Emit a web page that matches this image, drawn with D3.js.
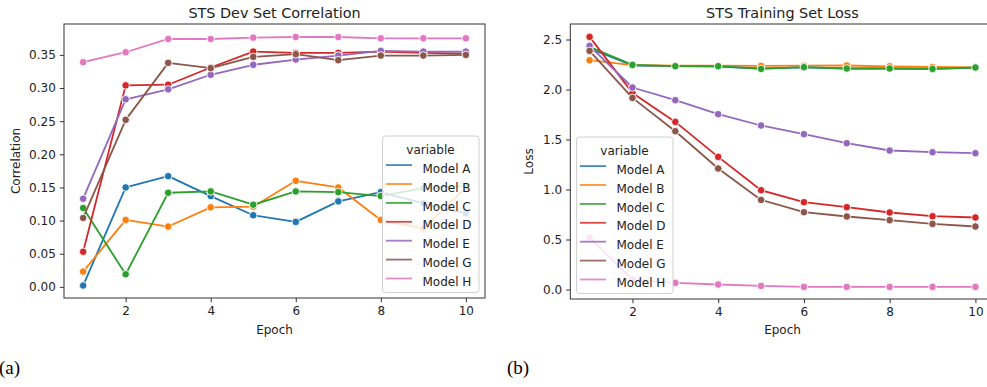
<!DOCTYPE html>
<html><head><meta charset="utf-8">
<script src="https://cdn.jsdelivr.net/npm/d3@7"></script>
<style>
body{margin:0;background:#fff;}
svg text{font-family:"DejaVu Sans",sans-serif;fill:#222;}
svg text.sub{font-family:"Liberation Serif","Times New Roman",serif;fill:#000;}
</style></head>
<body><svg id="c" width="987" height="387"></svg>
<script>
const epochs = [1,2,3,4,5,6,7,8,9,10];
const models = ["Model A","Model B","Model C","Model D","Model E","Model G","Model H"];
const colors = ["#1f77b4","#ff7f0e","#2ca02c","#d62728","#9467bd","#8c564b","#e377c2"];

// STS Dev Set Correlation
const corrA = [0.002,0.150,0.167,0.137,0.108,0.098,0.129,0.143,0.126,0.111];
const corrB = [0.023,0.101,0.091,0.120,0.121,0.160,0.150,0.101,0.088,0.150];
const corrC = [0.119,0.019,0.142,0.144,0.124,0.144,0.143,0.137,0.149,0.152];
const corrD = [0.053,0.304,0.305,0.331,0.355,0.353,0.353,0.355,0.353,0.352];
const corrE = [0.133,0.283,0.298,0.320,0.335,0.343,0.349,0.356,0.355,0.355];
const corrG = [0.104,0.252,0.338,0.330,0.347,0.351,0.342,0.349,0.349,0.350];
const corrH = [0.339,0.354,0.374,0.374,0.376,0.377,0.377,0.375,0.375,0.375];

// STS Training Set Loss
const lossA = [2.41,2.24,2.234,2.23,2.21,2.222,2.21,2.21,2.206,2.218];
const lossB = [2.293,2.243,2.238,2.238,2.236,2.238,2.24,2.232,2.225,2.222];
const lossC = [2.426,2.246,2.233,2.233,2.206,2.223,2.21,2.21,2.206,2.22];
const lossD = [2.526,1.966,1.676,1.326,0.993,0.873,0.823,0.770,0.733,0.720];
const lossE = [2.436,2.020,1.893,1.753,1.640,1.553,1.463,1.390,1.373,1.363];
const lossG = [2.386,1.916,1.583,1.210,0.896,0.773,0.730,0.693,0.656,0.630];
const lossH = [0.520,0.100,0.066,0.050,0.036,0.026,0.026,0.026,0.026,0.026];

const xTicks = [2,4,6,8,10];
const corrTicks = [0,0.05,0.10,0.15,0.20,0.25,0.30,0.35];
const lossTicks = [0,0.5,1.0,1.5,2.0,2.5];

const svg = d3.select("#c");

function panel(o){
  const g = svg.append("g");
  const x = d3.scaleLinear().domain([0.55,10.45]).range([o.left,o.right]);
  const y = d3.scaleLinear().domain(o.ydom).range([o.bottom,o.top]);
  const line = d3.line().x((d,i)=>x(epochs[i])).y(d=>y(d));
  o.series.forEach((s,k)=>{
    const sg = g.append("g");
    sg.append("path").attr("d",line(s)).attr("fill","none")
      .attr("stroke",colors[k]).attr("stroke-width",1.8).attr("stroke-linejoin","round").attr("stroke-linecap","round");
    sg.selectAll("circle").data(s).join("circle")
      .attr("cx",(d,i)=>x(epochs[i])).attr("cy",d=>y(d)).attr("r",3.8)
      .attr("fill",colors[k]).attr("stroke","#fff").attr("stroke-width",0.9);
  });
  g.append("rect").attr("x",o.left).attr("y",o.top).attr("width",o.right-o.left).attr("height",o.bottom-o.top)
    .attr("fill","none").attr("stroke","#333").attr("stroke-width",1);
  const xa = g.append("g").attr("transform",`translate(0,${o.bottom})`)
    .call(d3.axisBottom(x).tickValues(xTicks).tickFormat(d3.format("d")).tickSize(4.2).tickPadding(4));
  const ya = g.append("g").attr("transform",`translate(${o.left},0)`)
    .call(d3.axisLeft(y).tickValues(o.yticks).tickFormat(d3.format(o.yfmt)).tickSize(4.2).tickPadding(4));
  [xa,ya].forEach(a=>{
    a.select(".domain").remove();
    a.selectAll(".tick line").attr("stroke","#333").attr("stroke-width",1);
    a.selectAll(".tick text").attr("font-size",12).attr("fill","#222");
  });
  g.append("text").attr("x",(o.left+o.right)/2).attr("y",17.5).attr("text-anchor","middle").attr("font-size",14.4).text(o.title);
  g.append("text").attr("x",(o.left+o.right)/2).attr("y",334).attr("text-anchor","middle").attr("font-size",12).text("Epoch");
  g.append("text").attr("transform",`translate(${o.ylx},${(o.top+o.bottom)/2}) rotate(-90)`).attr("text-anchor","middle").attr("font-size",12).text(o.ylabel);
  const lg = g.append("g").attr("transform",`translate(${o.legX},${o.legY})`);
  lg.append("rect").attr("x",0).attr("y",0).attr("width",96.5).attr("height",156.5).attr("rx",3)
    .attr("fill","#fff").attr("fill-opacity",0.8).attr("stroke","#d0d0d0").attr("stroke-width",1);
  lg.append("text").attr("x",48).attr("y",17.5).attr("text-anchor","middle").attr("font-size",12).text("variable");
  models.forEach((m,k)=>{
    const yy = 36.7 + k*18.9;
    lg.append("line").attr("x1",3.5).attr("x2",29.5).attr("y1",yy-7.6).attr("y2",yy-7.6)
      .attr("stroke",colors[k]).attr("stroke-width",1.8).attr("stroke-opacity",0.85);
    lg.append("text").attr("x",40).attr("y",yy).attr("font-size",12).text(m);
  });
  g.append("text").attr("class","sub").attr("x",o.subX).attr("y",374).attr("font-size",19).text(o.sub);
}

panel({left:64,right:485,top:24,bottom:298,ydom:[-0.0168,0.3966],yticks:corrTicks,yfmt:".2f",
  series:[corrA,corrB,corrC,corrD,corrE,corrG,corrH],title:"STS Dev Set Correlation",ylabel:"Correlation",ylx:19.5,
  legX:382.5,legY:136,sub:"(a)",subX:-1});
panel({left:570.3,right:994.7,top:24,bottom:299,ydom:[-0.095,2.655],yticks:lossTicks,yfmt:".1f",
  series:[lossA,lossB,lossC,lossD,lossE,lossG,lossH],title:"STS Training Set Loss",ylabel:"Loss",ylx:532.5,
  legX:576.5,legY:137,sub:"(b)",subX:507});
</script></body></html>
